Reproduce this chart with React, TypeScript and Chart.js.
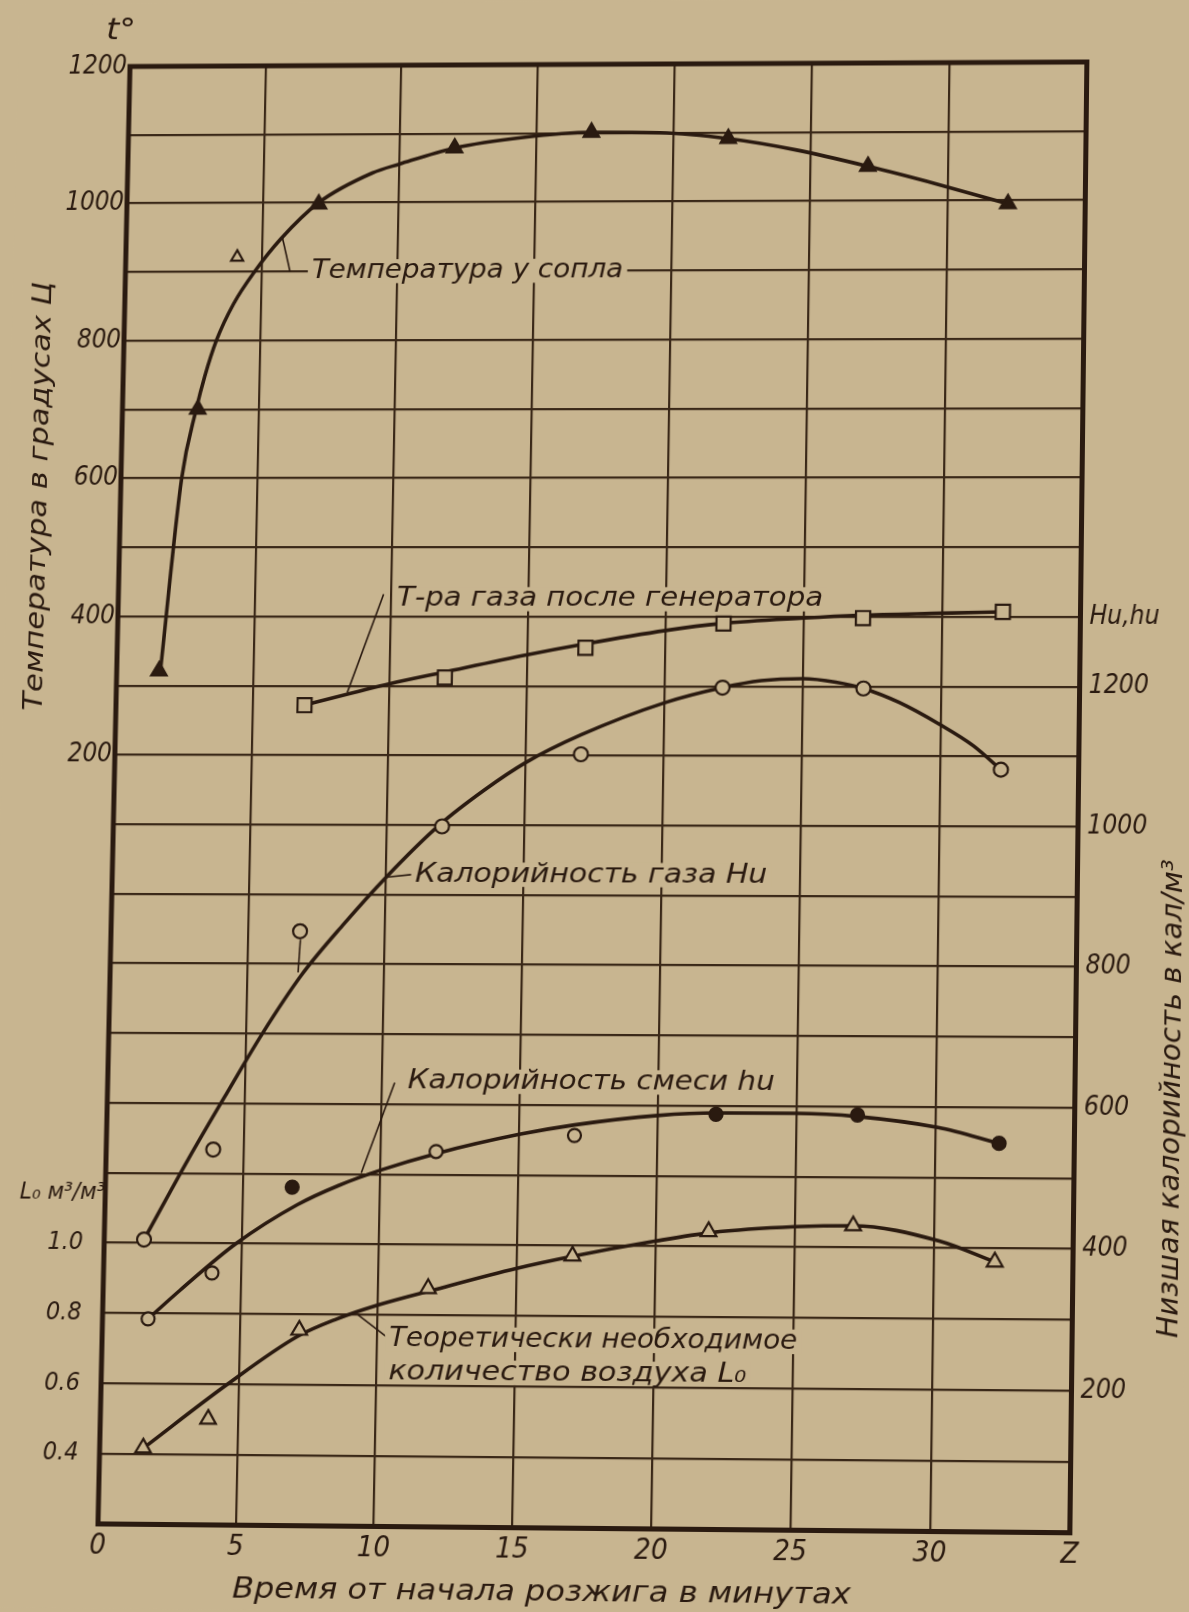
import React, { useEffect, useRef } from 'react';
import { Chart, registerables } from 'chart.js';

Chart.register(...registerables);

/* ---------------- axis ticks ---------------- */
const TIME_TICKS = [0, 5, 10, 15, 20, 25, 30, 35];
const TIME_TICK_LABELS = ['0', '5', '10', '15', '20', '25', '30', 'Z'];
const TEMP_TICKS = [200, 400, 600, 800, 1000, 1200];
const HU_TICKS = [200, 400, 600, 800, 1000, 1200];
const HU_UNIT_TICK = 1300;
const HU_UNIT_LABEL = 'Hu,hu';
const LO_TICKS = [0.4, 0.6, 0.8, 1.0];

/* ---------------- series ---------------- */
// Температура у сопла (left axis, °C)
const nozzleTime = [1.55, 2.77, 7.05, 12.0, 17.0, 22.0, 27.1, 32.2];
const nozzleTemp = [321, 700, 998, 1079, 1101, 1091, 1050, 995];
const nozzleOutlierTime = [4.1];
const nozzleOutlierTemp = [921];
const nozzleCurveTime = [1.6, 2.23, 2.71, 3.0, 3.4, 4.0, 4.75, 5.7, 7.05, 9.0, 10.0, 12.0, 14.5, 17.0, 19.5, 22.0, 24.5, 27.1, 29.6, 32.2];
const nozzleCurveTemp = [321, 600, 700, 748, 800, 853, 900, 948, 1000, 1043, 1056, 1079, 1094, 1101, 1100, 1091, 1074, 1050, 1024, 995];

// Т-ра газа после генератора (left axis, °C)
const genTime = [6.9, 12.0, 17.1, 22.1, 27.15, 32.2];
const genTemp = [272, 312, 355, 390, 398, 407];
const genCurveTime = [6.9, 10, 12, 15, 17, 20, 22, 25, 27, 30, 32.2];
const genCurveTemp = [272, 303, 320, 345, 360, 380, 390, 398, 402, 405, 407];

// Калорийность газа Hu (right axis, кал/м³)
const huTime = [1.45, 3.9, 6.9, 12.0, 17.0, 22.1, 27.2, 32.2];
const huVal = [405, 534, 847, 998, 1102, 1198, 1197, 1081];
const huCurveTime = [1.45, 3.0, 4.4, 5.6, 7.0, 8.5, 10.0, 11.9, 13.5, 15.0, 17.0, 20.0, 22.1, 23.5, 25.0, 26.2, 27.2, 28.5, 30.0, 31.2, 32.2];
const huCurveVal = [405, 520, 618, 700, 785, 858, 925, 1000, 1050, 1090, 1130, 1176, 1198, 1208, 1211, 1206, 1197, 1177, 1145, 1115, 1081];

// Калорийность смеси hu (right axis, кал/м³)
const mixFilledTime = [6.8, 22.1, 27.2, 32.3];
const mixFilledVal = [481, 588, 588, 549];
const mixOpenTime = [1.66, 3.95, 12.0, 17.0];
const mixOpenVal = [292, 358, 533, 557];
const mixCurveTime = [1.66, 2.8, 4.8, 7.0, 8.5, 10.0, 12.0, 15.0, 17.0, 20.0, 22.1, 25.0, 27.2, 30.1, 32.3];
const mixCurveVal = [292, 333, 400, 456, 484, 506, 530, 558, 572, 586, 590, 590, 586, 571, 549];

// Теоретически необходимое количество воздуха L0 (left lower axis, м³/м³)
const loTime = [1.58, 3.92, 7.16, 11.8, 17.0, 21.9, 27.1, 32.2];
const loVal = [0.417, 0.5, 0.755, 0.876, 0.971, 1.043, 1.062, 0.962];
const loCurveTime = [1.6, 4.6, 7.1, 8.5, 10.0, 12.0, 15.0, 17.0, 20.0, 22.0, 25.0, 27.1, 30.2, 32.2];
const loCurveVal = [0.417, 0.6, 0.737, 0.787, 0.828, 0.872, 0.935, 0.97, 1.015, 1.04, 1.058, 1.062, 1.02, 0.962];

/* ---------------- annotations (data coordinates: minutes, Hu units) ---------------- */
const NOTE_TEXTS = [
  'Температура у сопла',
  'Т-ра газа после генератора',
  'Калорийность газа Hu',
  'Калорийность смеси hu',
  'Теоретически необходимое',
  'количество воздуха L₀',
];
const NOTE_X = [6.85, 10.2, 11.05, 10.92, 10.42, 10.42];
const NOTE_HU = [1800, 1325, 929, 633, 266, 219];
const NOTE_W = [314, 427, 352, 366, 406, 356];
const LEADERS = [
  [5.73, 1852, 6.05, 1800],
  [9.71, 1332, 8.45, 1190],
  [10.0, 925, 10.98, 929],
  [9.3, 502, 10.45, 631],
  [9.28, 300, 10.36, 268],
  [6.92, 835, 6.86, 788],
];

/* ---------------- layout & style ---------------- */
const W = 1189;
const H = 1612;
const PLOT = { left: 114, top: 64, right: 1078.5, bottom: 1528.5 };
// corners of the plot frame in the photographed reference (TL, TR, BR, BL)
const REF_CORNERS = [
  [130, 66.5],
  [1087, 62],
  [1070, 1533],
  [98, 1524],
];
const PAPER = '#c8b590';
const INK = '#2a1a10';
const GRID = '#3a2818';
const FONT = "'DejaVu Sans Condensed', 'DejaVu Sans', sans-serif";

const pts = (xs: number[], ys: number[]) => xs.map((x, i) => ({ x, y: ys[i] }));

function solveHomography(src: number[][], dst: number[][]): number[] {
  const A: number[][] = [];
  const b: number[] = [];
  for (let i = 0; i < 4; i++) {
    const [x, y] = src[i];
    const [u, v] = dst[i];
    A.push([x, y, 1, 0, 0, 0, -x * u, -y * u]);
    b.push(u);
    A.push([0, 0, 0, x, y, 1, -x * v, -y * v]);
    b.push(v);
  }
  const n = 8;
  for (let c = 0; c < n; c++) {
    let p = c;
    for (let r = c + 1; r < n; r++) if (Math.abs(A[r][c]) > Math.abs(A[p][c])) p = r;
    [A[c], A[p]] = [A[p], A[c]];
    [b[c], b[p]] = [b[p], b[c]];
    for (let r = 0; r < n; r++) {
      if (r === c) continue;
      const f = A[r][c] / A[c][c];
      if (f === 0) continue;
      for (let k = c; k < n; k++) A[r][k] -= f * A[c][k];
      b[r] -= f * b[c];
    }
  }
  return b.map((v, i) => v / A[i][i]);
}

function fitText(
  ctx: CanvasRenderingContext2D,
  text: string,
  x: number,
  y: number,
  w: number,
  size: number,
  align: CanvasTextAlign,
  rot = 0,
  bg = false
) {
  ctx.save();
  ctx.font = `italic ${size}px ${FONT}`;
  const m = ctx.measureText(text).width || 1;
  const sx = w / m;
  ctx.translate(x, y);
  if (rot) ctx.rotate(rot);
  ctx.scale(sx, 1);
  ctx.textBaseline = 'middle';
  ctx.textAlign = align;
  if (bg) {
    const x0 = align === 'left' ? 0 : align === 'right' ? -m : -m / 2;
    ctx.fillStyle = PAPER;
    ctx.fillRect(x0 - 4 / sx, -size * 0.45, m + 8 / sx, size * 0.9);
  }
  ctx.fillStyle = INK;
  ctx.fillText(text, 0, 0);
  ctx.restore();
}

const paperPlugin = {
  id: 'paper',
  beforeDraw(chart: any) {
    const { ctx, width, height } = chart;
    ctx.save();
    ctx.fillStyle = PAPER;
    ctx.fillRect(0, 0, width, height);
    ctx.restore();
  },
};

const notesPlugin = {
  id: 'notes',
  beforeDatasetsDraw(chart: any) {
    const { ctx } = chart;
    const xs = chart.scales.x;
    const ys = chart.scales.yH;
    ctx.save();
    ctx.strokeStyle = INK;
    ctx.lineWidth = 1.6;
    LEADERS.forEach(([x1, y1, x2, y2]) => {
      ctx.beginPath();
      ctx.moveTo(xs.getPixelForValue(x1), ys.getPixelForValue(y1));
      ctx.lineTo(xs.getPixelForValue(x2), ys.getPixelForValue(y2));
      ctx.stroke();
    });
    ctx.restore();
    NOTE_TEXTS.forEach((t, i) => {
      fitText(ctx, t, xs.getPixelForValue(NOTE_X[i]), ys.getPixelForValue(NOTE_HU[i]), NOTE_W[i], 27, 'left', 0, true);
    });
  },
  afterDraw(chart: any) {
    const { ctx, chartArea: a } = chart;
    ctx.save();
    ctx.strokeStyle = INK;
    ctx.lineWidth = 5;
    ctx.strokeRect(a.left, a.top, a.right - a.left, a.bottom - a.top);
    ctx.restore();
    // axis titles
    fitText(ctx, 't°', a.left - 10, 28, 30, 30, 'center');
    fitText(ctx, 'Температура в градусах Ц', 31.6, 500, 434, 27, 'center', -Math.PI / 2);
    fitText(ctx, 'Низшая калорийность в кал/м³', 1174.6, 1100, 473, 28, 'center', -Math.PI / 2);
    fitText(ctx, 'Время от начала розжига в минутах', 556.5, 1593, 614, 28, 'center');
    fitText(ctx, 'L₀ м³/м³', 28, 1200, 86, 23, 'left');
  },
};

const tickFont = (size: number) => ({ family: FONT, size, style: 'italic' as const });

export default function App() {
  const ref = useRef<HTMLCanvasElement | null>(null);

  useEffect(() => {
    const canvas = ref.current;
    if (!canvas) return;

    const curve = (data: any[], yAxisID: string) => ({
      data,
      yAxisID,
      xAxisID: 'x',
      showLine: true,
      borderColor: INK,
      borderWidth: 3.6,
      pointRadius: 0,
      cubicInterpolationMode: 'monotone' as const,
      order: 1,
    });
    const marks = (data: any[], yAxisID: string, style: string, radius: number, filled: boolean) => ({
      data,
      yAxisID,
      xAxisID: 'x',
      showLine: false,
      pointStyle: style,
      pointRadius: radius,
      pointBackgroundColor: filled ? INK : PAPER,
      pointBorderColor: INK,
      pointBorderWidth: 2.2,
      order: 0,
    });

    const chart = new Chart(canvas, {
      type: 'scatter',
      data: {
        datasets: [
          marks(pts(nozzleTime, nozzleTemp), 'yT', 'triangle', 9, true),
          marks(pts(nozzleOutlierTime, nozzleOutlierTemp), 'yT', 'triangle', 7, false),
          marks(pts(genTime, genTemp), 'yT', 'rect', 10, false),
          marks(pts(huTime, huVal), 'yH', 'circle', 7, false),
          marks(pts(mixFilledTime, mixFilledVal), 'yH', 'circle', 6.5, true),
          marks(pts(mixOpenTime, mixOpenVal), 'yH', 'circle', 6.5, false),
          marks(pts(loTime, loVal), 'yL', 'triangle', 9, false),
          curve(pts(nozzleCurveTime, nozzleCurveTemp), 'yT'),
          curve(pts(genCurveTime, genCurveTemp), 'yT'),
          curve(pts(huCurveTime, huCurveVal), 'yH'),
          curve(pts(mixCurveTime, mixCurveVal), 'yH'),
          curve(pts(loCurveTime, loCurveVal), 'yL'),
        ] as any,
      },
      options: {
        responsive: false,
        devicePixelRatio: 1,
        animation: false,
        events: [],
        layout: { padding: { top: PLOT.top, left: 0, right: 0, bottom: 0 } },
        plugins: { legend: { display: false }, tooltip: { enabled: false }, title: { display: false } },
        scales: {
          x: {
            type: 'linear',
            position: 'bottom',
            min: 0,
            max: 35,
            afterBuildTicks: (s: any) => {
              s.ticks = TIME_TICKS.map((value) => ({ value }));
            },
            afterFit: (s: any) => {
              s.height = H - PLOT.bottom;
            },
            grid: { color: GRID, lineWidth: 2.2, drawTicks: false },
            border: { display: false },
            ticks: {
              autoSkip: false,
              maxRotation: 0,
              padding: 5,
              color: INK,
              font: tickFont(29),
              callback: (v: any) => TIME_TICK_LABELS[TIME_TICKS.indexOf(Number(v))] ?? '',
            },
          },
          yT: {
            type: 'linear',
            position: 'left',
            weight: 1,
            min: -900,
            max: 1200,
            afterBuildTicks: (s: any) => {
              s.ticks = TEMP_TICKS.map((value) => ({ value }));
            },
            afterFit: (s: any) => {
              s.width = PLOT.left;
            },
            grid: { display: false, drawTicks: false },
            border: { display: false },
            ticks: { autoSkip: false, padding: 3, color: INK, font: tickFont(26), callback: (v: any) => String(v) },
          },
          yL: {
            type: 'linear',
            position: 'left',
            weight: 0,
            min: 0.2,
            max: 4.4,
            afterBuildTicks: (s: any) => {
              s.ticks = LO_TICKS.map((value) => ({ value }));
            },
            afterFit: (s: any) => {
              s.width = 0;
            },
            grid: { display: false, drawTicks: false },
            border: { display: false },
            ticks: {
              autoSkip: false,
              mirror: true,
              crossAlign: 'near',
              padding: -57,
              color: INK,
              font: tickFont(25),
              callback: (v: any) => Number(v).toFixed(1),
            },
          },
          yH: {
            type: 'linear',
            position: 'right',
            min: 0,
            max: 2100,
            afterBuildTicks: (s: any) => {
              const t: { value: number }[] = [];
              for (let v = s.min; v <= s.max + 1e-6; v += 100) t.push({ value: v });
              s.ticks = t;
            },
            afterFit: (s: any) => {
              s.width = W - PLOT.right;
            },
            grid: { color: GRID, lineWidth: 2.2, drawTicks: false },
            border: { display: false },
            ticks: {
              autoSkip: false,
              padding: 9,
              color: INK,
              font: tickFont(26),
              callback: (v: any) => {
                const n = Number(v);
                if (HU_TICKS.includes(n)) return String(n);
                if (n === HU_UNIT_TICK) return HU_UNIT_LABEL;
                return '';
              },
            },
          },
        },
      } as any,
      plugins: [paperPlugin, notesPlugin],
    });

    const a = chart.chartArea;
    const h = solveHomography(
      [
        [a.left, a.top],
        [a.right, a.top],
        [a.right, a.bottom],
        [a.left, a.bottom],
      ],
      REF_CORNERS
    );
    canvas.style.transformOrigin = '0 0';
    canvas.style.transform = `matrix3d(${h[0]},${h[3]},0,${h[6]},${h[1]},${h[4]},0,${h[7]},0,0,1,0,${h[2]},${h[5]},0,1)`;

    return () => {
      chart.destroy();
    };
  }, []);

  return (
    <div
      style={{
        position: 'absolute',
        left: 0,
        top: 0,
        width: W,
        height: H,
        background: PAPER,
        overflow: 'hidden',
      }}
    >
      <canvas ref={ref} width={W} height={H} style={{ display: 'block', width: W, height: H }} />
    </div>
  );
}
